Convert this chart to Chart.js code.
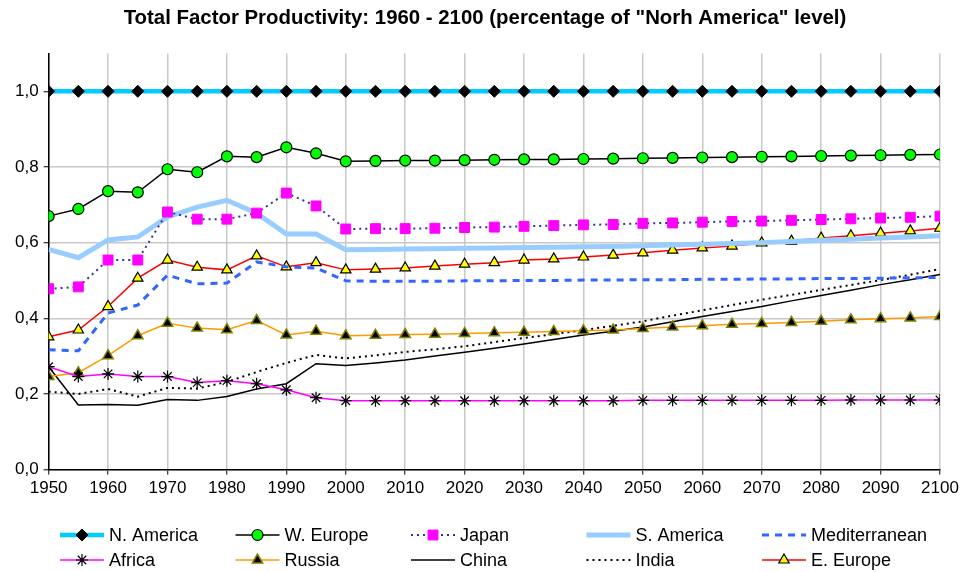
<!DOCTYPE html>
<html lang="en">
<head>
  <meta charset="UTF-8">
  <title>Total Factor Productivity</title>
  <script src="https://cdn.jsdelivr.net/npm/chart.js"></script>
  <style>
    body { margin: 0; background: #fff; }
    .wrap { width: 960px; height: 572px; position: relative; }
  </style>
</head>
<body>
  <div class="wrap"><canvas id="tfpChart" width="960" height="572"></canvas></div>

  <script>
    // years every 5 years, 1950 - 2100
    const years = [1950, 1955, 1960, 1965, 1970, 1975, 1980, 1985, 1990, 1995, 2000, 2005, 2010, 2015, 2020, 2025,
                   2030, 2035, 2040, 2045, 2050, 2055, 2060, 2065, 2070, 2075, 2080, 2085, 2090, 2095, 2100];

    const nAmerica = [1, 1, 1, 1, 1, 1, 1, 1, 1, 1, 1, 1, 1, 1, 1, 1, 1, 1, 1, 1, 1, 1, 1, 1, 1, 1, 1, 1, 1, 1, 1];
    const wEurope = [0.670, 0.689, 0.736, 0.733, 0.794, 0.786, 0.828, 0.826, 0.852, 0.836, 0.815, 0.816, 0.817, 0.817, 0.818, 0.819,
                     0.820, 0.820, 0.821, 0.822, 0.823, 0.824, 0.825, 0.826, 0.827, 0.828, 0.829, 0.830, 0.831, 0.832, 0.833];
    const japan = [0.478, 0.483, 0.554, 0.554, 0.681, 0.662, 0.662, 0.678, 0.731, 0.697, 0.636, 0.637, 0.637, 0.638, 0.640, 0.641,
                   0.643, 0.645, 0.647, 0.648, 0.651, 0.652, 0.654, 0.656, 0.657, 0.659, 0.661, 0.663, 0.665, 0.667, 0.670];
    const sAmerica = [0.582, 0.560, 0.607, 0.615, 0.668, 0.694, 0.712, 0.678, 0.623, 0.623, 0.581, 0.582, 0.583, 0.584, 0.585, 0.586,
                      0.587, 0.588, 0.589, 0.590, 0.592, 0.594, 0.596, 0.598, 0.600, 0.603, 0.606, 0.609, 0.612, 0.615, 0.618];
    const mediterranean = [0.317, 0.314, 0.414, 0.435, 0.514, 0.491, 0.493, 0.549, 0.536, 0.533, 0.499, 0.498, 0.498, 0.498, 0.499, 0.499,
                           0.500, 0.500, 0.501, 0.501, 0.502, 0.502, 0.503, 0.503, 0.504, 0.504, 0.505, 0.505, 0.506, 0.507, 0.508];
    const africa = [0.272, 0.246, 0.253, 0.246, 0.246, 0.230, 0.235, 0.227, 0.211, 0.190, 0.182, 0.182, 0.182, 0.182, 0.182, 0.182,
                    0.182, 0.182, 0.182, 0.182, 0.183, 0.183, 0.183, 0.183, 0.183, 0.183, 0.183, 0.184, 0.184, 0.184, 0.184];
    const russia = [0.246, 0.256, 0.301, 0.354, 0.387, 0.374, 0.370, 0.394, 0.356, 0.366, 0.354, 0.355, 0.357, 0.358, 0.360, 0.362,
                    0.363, 0.365, 0.367, 0.369, 0.373, 0.377, 0.380, 0.384, 0.386, 0.389, 0.392, 0.396, 0.399, 0.401, 0.405];
    const china = [0.272, 0.171, 0.172, 0.170, 0.185, 0.183, 0.193, 0.213, 0.227, 0.280, 0.275, 0.282, 0.290, 0.300, 0.310, 0.321,
                   0.332, 0.344, 0.356, 0.366, 0.377, 0.391, 0.405, 0.418, 0.431, 0.446, 0.460, 0.474, 0.489, 0.502, 0.516];
    const india = [0.206, 0.200, 0.213, 0.193, 0.216, 0.214, 0.232, 0.258, 0.282, 0.303, 0.294, 0.302, 0.311, 0.318, 0.326, 0.337,
                   0.348, 0.358, 0.369, 0.380, 0.392, 0.407, 0.421, 0.435, 0.449, 0.462, 0.475, 0.488, 0.501, 0.515, 0.530];
    const eEurope = [0.351, 0.369, 0.431, 0.506, 0.554, 0.535, 0.528, 0.565, 0.536, 0.547, 0.528, 0.530, 0.533, 0.538, 0.543, 0.547,
                     0.554, 0.557, 0.562, 0.567, 0.573, 0.580, 0.586, 0.591, 0.599, 0.604, 0.612, 0.618, 0.625, 0.631, 0.638];

    const xTicks = [1950, 1960, 1970, 1980, 1990, 2000, 2010, 2020, 2030, 2040, 2050, 2060, 2070, 2080, 2090, 2100];
    const yTicks = [0, 0.2, 0.4, 0.6, 0.8, 1.0];

    const toPoints = arr => arr.map((v, i) => ({ x: years[i], y: v }));

    function series(label, values, style) {
      return Object.assign({
        label: label,
        data: toPoints(values),
        borderWidth: 1.5,
        pointRadius: 0,
        pointHoverRadius: 0,
        tension: 0,
        fill: false
      }, style);
    }

    const datasets = [
      series('N. America', nAmerica, { borderColor: '#00ccff', borderWidth: 4.5, pointStyle: 'rectRot', pointRadius: 6,
        pointBackgroundColor: '#000', pointBorderColor: '#000', pointBorderWidth: 1 }),
      series('W. Europe', wEurope, { borderColor: '#000', pointStyle: 'circle', pointRadius: 5.5,
        pointBackgroundColor: '#00ff00', pointBorderColor: '#000', pointBorderWidth: 1.2 }),
      series('Japan', japan, { borderColor: '#333399', borderWidth: 2, borderDash: [2, 4], pointStyle: 'rect', pointRadius: 7,
        pointBackgroundColor: '#ff00ff', pointBorderColor: '#ff00ff', pointBorderWidth: 1 }),
      series('S. America', sAmerica, { borderColor: '#99ccff', borderWidth: 5 }),
      series('Mediterranean', mediterranean, { borderColor: '#3366ff', borderWidth: 3, borderDash: [7, 6] }),
      series('Africa', africa, { borderColor: '#ff00ff', pointStyle: 'star', pointRadius: 6,
        pointBackgroundColor: '#000', pointBorderColor: '#000', pointBorderWidth: 1.2 }),
      series('Russia', russia, { borderColor: '#ff9900', pointStyle: 'triangle', pointRadius: 6,
        pointBackgroundColor: '#000', pointBorderColor: '#808000', pointBorderWidth: 1.5 }),
      series('China', china, { borderColor: '#000' }),
      series('India', india, { borderColor: '#000', borderWidth: 2, borderDash: [2, 4] }),
      series('E. Europe', eEurope, { borderColor: '#ff0000', pointStyle: 'triangle', pointRadius: 6,
        pointBackgroundColor: '#ffff00', pointBorderColor: '#000', pointBorderWidth: 1.2 })
    ];

    // legend drawn in a 5 x 2 grid under the x axis
    const gridLegend = {
      id: 'gridLegend',
      afterDraw(chart) {
        const ctx = chart.ctx;
        chart.data.datasets.forEach((ds, i) => {
          const col = i % 5, row = Math.floor(i / 5);
          const x0 = 60 + col * 175.5;
          const y = 535 + row * 25;
          ctx.save();
          ctx.strokeStyle = ds.borderColor;
          ctx.lineWidth = ds.borderWidth;
          ctx.setLineDash(ds.borderDash || []);
          ctx.beginPath();
          ctx.moveTo(x0, y);
          ctx.lineTo(x0 + 44, y);
          ctx.stroke();
          ctx.setLineDash([]);
          if (ds.pointRadius > 0) {
            ctx.fillStyle = ds.pointBackgroundColor;
            ctx.strokeStyle = ds.pointBorderColor;
            ctx.lineWidth = ds.pointBorderWidth;
            Chart.helpers.drawPoint(ctx, {
              pointStyle: ds.pointStyle,
              radius: ds.pointRadius,
              rotation: 0,
              borderWidth: ds.pointBorderWidth
            }, x0 + 22, y);
          }
          ctx.fillStyle = '#000';
          ctx.font = '18px Arial, "Liberation Sans", sans-serif';
          ctx.textBaseline = 'middle';
          ctx.textAlign = 'left';
          ctx.fillText(ds.label, x0 + 49, y + 1);
          ctx.restore();
        });
      }
    };

    Chart.defaults.font.family = 'Arial, "Liberation Sans", sans-serif';
    Chart.defaults.color = '#000';

    new Chart(document.getElementById('tfpChart'), {
      type: 'line',
      data: { datasets: datasets },
      plugins: [gridLegend],
      options: {
        responsive: false,
        animation: false,
        layout: { padding: { left: 10, right: 0, top: 4, bottom: 69 } },
        plugins: {
          legend: { display: false },
          tooltip: { enabled: false },
          title: {
            display: true,
            text: 'Total Factor Productivity: 1960 - 2100 (percentage of "Norh America" level)',
            font: { size: 20.4, weight: 'bold' },
            padding: { top: 2, bottom: 23 }
          }
        },
        scales: {
          x: {
            type: 'linear',
            min: 1950,
            max: 2100,
            afterBuildTicks: axis => { axis.ticks = xTicks.map(v => ({ value: v })); },
            afterFit: axis => { axis.paddingRight = 20; },
            ticks: { font: { size: 17 }, padding: 4, maxRotation: 0, callback: v => String(v) },
            grid: { color: '#c8c8c8', lineWidth: 1.5, tickColor: '#000', tickLength: 5, tickWidth: 1 },
            border: { color: '#000', width: 1.5 }
          },
          y: {
            min: 0,
            max: 1.1,
            afterBuildTicks: axis => { axis.ticks = yTicks.map(v => ({ value: v })); },
            ticks: { font: { size: 17 }, padding: 5, callback: v => v.toFixed(1).replace('.', ',') },
            grid: { color: '#c8c8c8', lineWidth: 1.5, tickColor: '#000', tickLength: 5, tickWidth: 1 },
            border: { color: '#000', width: 1.5 }
          }
        }
      }
    });
  </script>
</body>
</html>
